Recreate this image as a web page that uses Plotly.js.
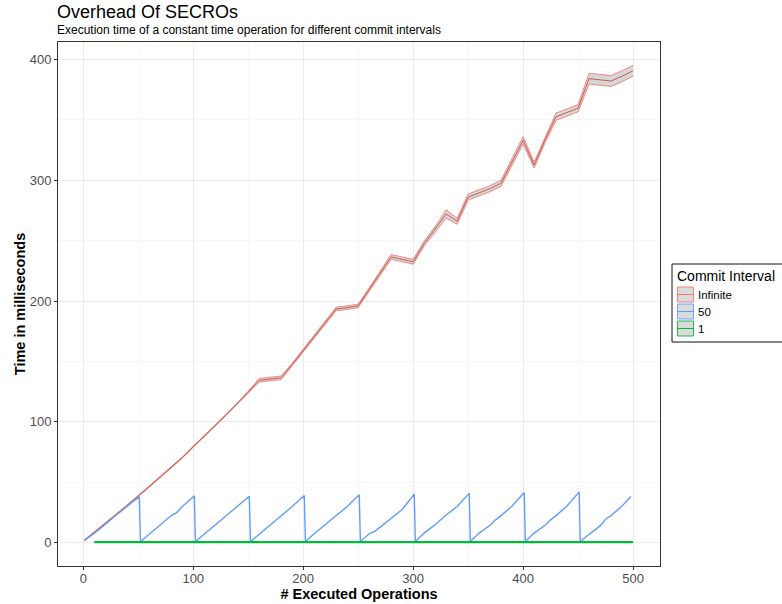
<!DOCTYPE html>
<html>
<head>
<meta charset="utf-8">
<script src="https://cdn.plot.ly/plotly-3.0.1.min.js"></script>
<style>html,body{margin:0;padding:0;background:#fff;}#chart{width:782px;height:604px;}</style>
</head>
<body>
<div id="chart"></div>
<script>
// ---- Data ----
const seriesNames = ["Infinite", "50", "1"];
const seriesColors = ["#F8766D", "#619CFF", "#00BA38"];

// Commit interval "Infinite": mean and min/max band
const infX = [1,10,20,30,40,50,60,70,80,90,100,110,120,130,140,150,160,170,180,190,200,210,220,230,240,250,260,270,280,290,300,310,320,330,340,350,360,370,380,390,400,410,420,430,440,450,460,470,480,490,500];
const infMean = [2,8.5,16,23.5,31,38.5,46.5,54.5,62.5,70.5,79.5,88,97,106,115,124.5,134.5,135.5,136.5,147.5,159,170.5,182,193.5,194.5,196,209.5,223,236.5,234.5,232.5,247.5,259.5,272,266,286,289.5,293,297.5,315,333,312.5,333.5,352.5,356,359.5,384,383,382,386,390.5];
const infLow = [1.5,8,15.5,23,30.5,38,46,54,62,70,79,87.5,96.5,105.5,114.5,123.5,133,134,135,146.5,158,169.5,181,192,193,194.5,208,221.5,234.5,232.5,230.5,245.5,257.5,268.5,263.5,283.5,287,290.5,295,312.5,330,310,331,349.5,353,356.5,379.5,378.5,377.5,381.5,386];
const infHigh = [2.5,9,16.5,24,31.5,39,47,55,63,71,80,88.5,97.5,106.5,115.5,125.5,136,137,138,148.5,160,171.5,183,195,196,197.5,211,224.5,238.5,236.5,234.5,249.5,261.5,275.5,268.5,288.5,292,295.5,300,317.5,336,315,336,355.5,359,362.5,388.5,387.5,386.5,390.5,395];

// Commit interval 50: sawtooth
const c50X = [1,5,10,15,20,25,30,35,40,45,51,
  52,60,70,80,85,90,95,101,
  102,110,120,130,140,151,
  152,160,170,180,190,201,
  202,210,220,230,240,251,
  252,260,265,270,280,290,301,
  302,310,320,330,340,351,
  352,360,370,375,380,390,401,
  402,410,420,425,430,440,451,
  452,460,470,475,480,490,498];
const c50Y = [2,4.5,8,11.5,15.5,19,23,26.5,30.5,34,38,
  1,7,14.5,22.5,25,30,34,38.8,
  1,7,14.5,22,29.5,38.5,
  1,7,14.5,22,30,39.2,
  1,7.5,15,22.5,30,39.7,
  1,7.5,9.5,13,20,27.5,40.3,
  1,8,15,23,30,40.9,
  1,8,14.5,19,22.5,30.5,41.6,
  1,8,14.5,19,22.5,30.5,42.1,
  1,7,14,19.5,22.5,30.5,38.3];

// Commit interval 1
const c1X = [10,20,30,40,50,60,70,80,90,100,110,120,130,140,150,160,170,180,190,200,210,220,230,240,250,260,270,280,290,300,310,320,330,340,350,360,370,380,390,400,410,420,430,440,450,460,470,480,490,500];
const c1Y = [0.5,0.5,0.5,0.5,0.5,0.5,0.5,0.5,0.5,0.5,0.5,0.5,0.6,0.5,0.5,0.5,0.5,0.5,0.5,0.5,0.5,0.5,0.5,0.5,0.5,0.5,0.5,0.5,0.5,0.5,0.5,0.5,0.5,0.5,0.5,0.5,0.5,0.5,0.5,0.5,0.5,0.5,0.5,0.5,0.5,0.5,0.5,0.5,0.5,0.5];

const xTicks = [0,100,200,300,400,500];
const yTicks = [0,100,200,300,400];

// ---- Layout helpers ----
const W = 782, H = 604;
const M = {l:58, r:122, t:42, b:38};
const pw = W - M.l - M.r, ph = H - M.t - M.b;
const px = v => (v - M.l) / pw;
const py = v => (H - M.b - v) / ph;

const FONT = '"Liberation Sans", Arial, sans-serif';

const traces = [
  {x: infX, y: infLow, mode: 'lines', line: {color: 'rgba(248,118,109,0.85)', width: 1}, showlegend: false, hoverinfo: 'skip'},
  {x: infX, y: infHigh, mode: 'lines', fill: 'tonexty', fillcolor: 'rgba(153,153,153,0.4)', line: {color: 'rgba(248,118,109,0.85)', width: 1}, showlegend: false, hoverinfo: 'skip'},
  {x: infX, y: infMean, mode: 'lines', line: {color: '#c0605a', width: 1}, showlegend: false, name: seriesNames[0]},
  {x: c50X, y: c50Y, mode: 'lines', line: {color: seriesColors[1], width: 1.4}, showlegend: false, name: seriesNames[1]},
  {x: c1X, y: c1Y, mode: 'lines', line: {color: seriesColors[2], width: 2.3}, showlegend: false, name: seriesNames[2]}
];

// Custom legend (ggplot style keys)
const shapes = [];
const annotations = [];
shapes.push({type: 'rect', xref: 'paper', yref: 'paper', x0: px(672), x1: px(792), y0: py(264), y1: py(342), line: {color: '#111', width: 1}, fillcolor: 'rgba(0,0,0,0)', layer: 'above'});
annotations.push({xref: 'paper', yref: 'paper', x: px(675), y: py(276), xanchor: 'left', yanchor: 'middle', showarrow: false, text: 'Commit Interval', font: {family: FONT, size: 14, color: '#000'}});
const rowC = [294.5, 311.5, 328.5];
seriesNames.forEach((n, i) => {
  const c = rowC[i];
  const rgb = seriesColors[i];
  shapes.push({type: 'rect', xref: 'paper', yref: 'paper', x0: px(677.5), x1: px(693.5), y0: py(c + 7.5), y1: py(c - 7.5), line: {color: rgb, width: 1}, fillcolor: '#d6d6d6', opacity: 0.9, layer: 'above'});
  shapes.push({type: 'line', xref: 'paper', yref: 'paper', x0: px(677.5), x1: px(693.5), y0: py(c), y1: py(c), line: {color: rgb, width: 1}, layer: 'above'});
  annotations.push({xref: 'paper', yref: 'paper', x: px(696), y: py(c), xanchor: 'left', yanchor: 'middle', showarrow: false, text: n, font: {family: FONT, size: 11.5, color: '#000'}});
});
annotations.push({xref: 'paper', yref: 'paper', x: px(55), y: py(30), xanchor: 'left', yanchor: 'middle', showarrow: false, text: 'Execution time of a constant time operation for different commit intervals', font: {family: FONT, size: 12, color: '#000'}});

const axisCommon = {
  showline: true, mirror: true, linecolor: '#333333', linewidth: 1,
  ticks: 'outside', ticklen: 3, tickcolor: '#333333', tickwidth: 1,
  showgrid: true, gridcolor: '#ebebeb', gridwidth: 1, zeroline: false,
  tickfont: {family: FONT, size: 13, color: '#4d4d4d'},
  automargin: false, fixedrange: true
};

const layout = {
  width: W, height: H,
  margin: M,
  paper_bgcolor: '#fff', plot_bgcolor: '#fff',
  font: {family: FONT},
  showlegend: false,
  title: {text: 'Overhead Of SECROs', x: 57 / W, xanchor: 'left', xref: 'container', y: 1 - 12 / H, yanchor: 'middle', yref: 'container', font: {family: FONT, size: 18, color: '#000'}},
  xaxis: Object.assign({}, axisCommon, {
    range: [-23, 524.5], tickvals: xTicks, ticktext: xTicks.map(String),
    ticklabelstandoff: -3,
    minor: {tickvals: [50,150,250,350,450], showgrid: true, gridcolor: '#f2f2f2', gridwidth: 0.7, ticks: ''},
    title: {text: '# Executed Operations', standoff: 1, font: {family: FONT, size: 14.5, color: '#000', weight: 'bold'}}
  }),
  yaxis: Object.assign({}, axisCommon, {
    range: [-19.2, 414.3], tickvals: yTicks, ticktext: yTicks.map(String),
    minor: {tickvals: [50,150,250,350], showgrid: true, gridcolor: '#f2f2f2', gridwidth: 0.7, ticks: ''},
    title: {text: 'Time in milliseconds', standoff: 0, font: {family: FONT, size: 14.5, color: '#000', weight: 'bold'}}
  }),
  shapes: shapes,
  annotations: annotations
};

Plotly.newPlot('chart', traces, layout, {displayModeBar: false, staticPlot: true});
</script>
</body>
</html>
